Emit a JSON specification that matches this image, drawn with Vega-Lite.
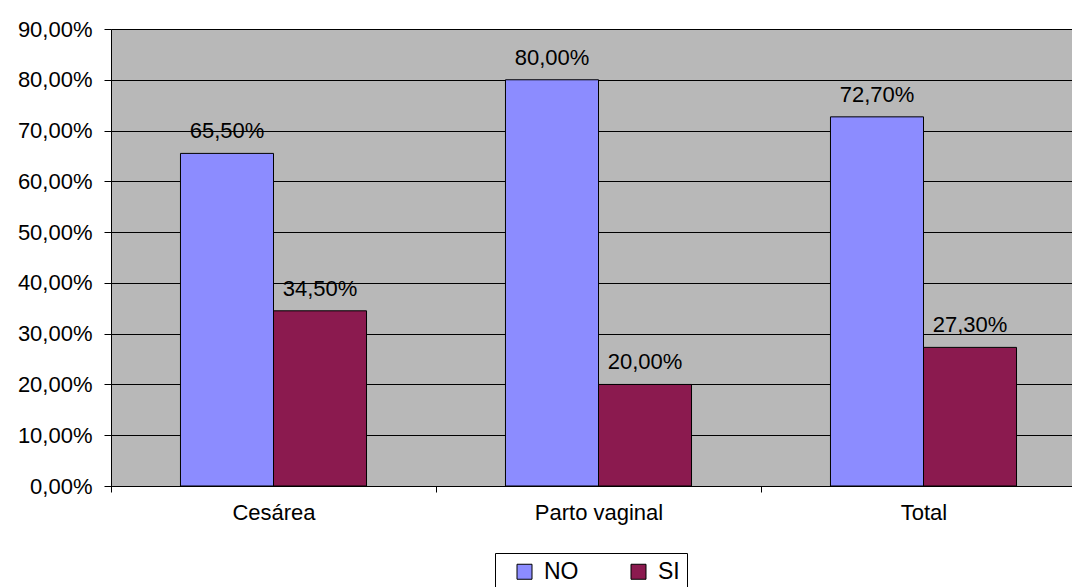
{
  "$schema": "https://vega.github.io/schema/vega-lite/v6.json",
  "width": 961,
  "height": 457,
  "autosize": "none",
  "padding": {"left": 111, "top": 29, "right": 0, "bottom": 101},
  "config": {
    "font": "Liberation Sans",
    "locale": {"number": {"decimal": ",", "thousands": ".", "grouping": [3], "currency": ["", " €"]}},
    "view": {"fill": "#B8B8B8", "stroke": "#808080", "strokeWidth": 1}
  },
  "data": {
    "values": [
      {"tipo": "Cesárea", "respuesta": "NO", "valor": 0.655},
      {"tipo": "Cesárea", "respuesta": "SI", "valor": 0.345},
      {"tipo": "Parto vaginal", "respuesta": "NO", "valor": 0.80},
      {"tipo": "Parto vaginal", "respuesta": "SI", "valor": 0.20},
      {"tipo": "Total", "respuesta": "NO", "valor": 0.727},
      {"tipo": "Total", "respuesta": "SI", "valor": 0.273}
    ]
  },
  "encoding": {
    "x": {
      "field": "tipo",
      "type": "nominal",
      "sort": null,
      "title": null,
      "scale": {"range": [0, 975], "paddingInner": 0, "paddingOuter": 0},
      "axis": {
        "tickBand": "extent",
        "labelAngle": 0,
        "labelFontSize": 22,
        "labelColor": "#000000",
        "labelPadding": 10,
        "tickSize": 6,
        "tickColor": "#000000",
        "domainColor": "#000000",
        "grid": false
      }
    },
    "xOffset": {
      "field": "respuesta",
      "type": "nominal",
      "scale": {"paddingInner": 0, "paddingOuter": 0.747}
    },
    "y": {
      "field": "valor",
      "type": "quantitative",
      "title": null,
      "scale": {"domain": [0, 0.9], "nice": false},
      "axis": {
        "values": [0, 0.1, 0.2, 0.3, 0.4, 0.5, 0.6, 0.7, 0.8, 0.9],
        "format": ".2%",
        "labelFontSize": 22,
        "labelColor": "#000000",
        "labelPadding": 12,
        "tickSize": 7,
        "tickColor": "#000000",
        "domainColor": "#000000",
        "gridColor": "#000000",
        "gridOpacity": 1,
        "gridWidth": 1
      }
    }
  },
  "layer": [
    {
      "mark": {"type": "bar", "stroke": "#000000", "strokeWidth": 1},
      "encoding": {
        "color": {
          "field": "respuesta",
          "type": "nominal",
          "title": null,
          "scale": {"domain": ["NO", "SI"], "range": ["#8C8CFF", "#8B1A4F"]},
          "legend": {
            "orient": "none",
            "legendX": 384,
            "legendY": 524,
            "direction": "horizontal",
            "padding": 7,
            "strokeColor": "#000000",
            "fillColor": "#FFFFFF",
            "symbolType": "square",
            "symbolSize": 225,
            "symbolOffset": 11,
            "symbolStrokeColor": "#000000",
            "symbolStrokeWidth": 1,
            "symbolOpacity": 1,
            "labelFontSize": 23,
            "labelColor": "#000000",
            "labelOffset": 8,
            "columnPadding": 37
          }
        }
      }
    },
    {
      "mark": {"type": "text", "baseline": "bottom", "dy": -10, "fontSize": 22, "color": "#000000"},
      "encoding": {
        "text": {"field": "valor", "type": "quantitative", "format": ".2%"}
      }
    }
  ]
}
